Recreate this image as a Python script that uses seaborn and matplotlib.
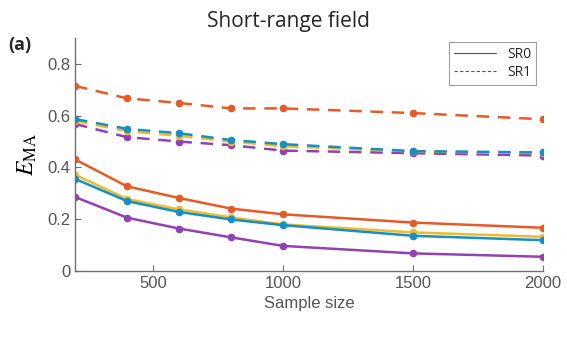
import matplotlib
matplotlib.use("Agg")
import matplotlib.pyplot as plt
import seaborn as sns
import pandas as pd
from matplotlib.lines import Line2D

sample_size = [200, 400, 600, 800, 1000, 1500, 2000]

sr0_orange = [0.431, 0.327, 0.282, 0.241, 0.219, 0.187, 0.167]
sr0_yellow = [0.372, 0.278, 0.238, 0.207, 0.180, 0.149, 0.132]
sr0_blue = [0.356, 0.270, 0.228, 0.199, 0.177, 0.136, 0.119]
sr0_purple = [0.286, 0.206, 0.164, 0.130, 0.097, 0.068, 0.055]

sr1_orange = [0.715, 0.667, 0.649, 0.628, 0.628, 0.610, 0.586]
sr1_yellow = [0.580, 0.540, 0.522, 0.500, 0.482, 0.462, 0.455]
sr1_blue = [0.587, 0.549, 0.532, 0.506, 0.490, 0.463, 0.458]
sr1_purple = [0.568, 0.517, 0.500, 0.486, 0.465, 0.455, 0.446]

colors = {"orange": "#E65A28", "yellow": "#EEBB2A", "blue": "#168FC6", "purple": "#9341B0"}

series = [
    ("SR0", "orange", sr0_orange), ("SR0", "yellow", sr0_yellow),
    ("SR0", "blue", sr0_blue), ("SR0", "purple", sr0_purple),
    ("SR1", "orange", sr1_orange), ("SR1", "purple", sr1_purple),
    ("SR1", "yellow", sr1_yellow), ("SR1", "blue", sr1_blue),
]

sns.set_theme(style="white")
plt.rcParams["font.family"] = ["Liberation Sans", "DejaVu Sans"]
plt.rcParams["mathtext.fontset"] = "stix"

fig = plt.figure(figsize=(5.67, 3.38), dpi=100)
ax = fig.add_axes([75 / 567, 1 - 271 / 338, (543 - 75) / 567, (271 - 38) / 338])

for sr, cname, vals in series:
    df = pd.DataFrame({"x": sample_size, "y": vals})
    ls = "-" if sr == "SR0" else (0, (5, 3.5))
    sns.lineplot(data=df, x="x", y="y", ax=ax, color=colors[cname], linestyle=ls,
                 linewidth=1.8, marker="o", markersize=5.5, markeredgewidth=0)

ax.set_xlim(200, 2000)
ax.set_ylim(0, 0.9)
ax.set_xticks([500, 1000, 1500, 2000])
ax.set_yticks([0, 0.2, 0.4, 0.6, 0.8])
ax.set_yticklabels(["0", "0.2", "0.4", "0.6", "0.8"])
for s in ["top", "right"]:
    ax.spines[s].set_visible(False)
for s in ["left", "bottom"]:
    ax.spines[s].set_color("#6f6f6f")
    ax.spines[s].set_linewidth(1.0)
ax.tick_params(direction="in", length=4, width=0.8, color="#6f6f6f",
               labelsize=12, labelcolor="#555555", left=True, bottom=True)

ax.set_xlabel("Sample size", fontsize=12, color="#555555")
ax.set_ylabel(r"$E_{\mathrm{MA}}$", fontsize=17, color="black", labelpad=6)
fig.text(288 / 567, 1 - 21 / 338, "Short-range field", fontsize=15,
         family=["Open Sans", "DejaVu Sans"], ha="center", va="center")
fig.text(8 / 567, 1 - 45 / 338, "(a)", fontsize=13, fontweight="bold",
         family=["Open Sans", "DejaVu Sans"], va="center")

handles = [Line2D([0], [0], color="#555555", lw=0.8, ls="-"),
           Line2D([0], [0], color="#555555", lw=0.8, ls=(0, (3, 2)))]
leg = ax.legend(handles, ["SR0", "SR1"], loc="upper right",
                frameon=True, fancybox=False, handlelength=3.0, handletextpad=0.8,
                borderpad=0.35, labelspacing=0.25, borderaxespad=0.0,
                prop={"family": ["Open Sans", "DejaVu Sans"], "size": 10},
                bbox_to_anchor=(536 / 567, 1 - 42 / 338), bbox_transform=fig.transFigure)
leg.get_frame().set_edgecolor("#888888")
leg.get_frame().set_linewidth(0.8)

fig.savefig("out.png", dpi=100)
